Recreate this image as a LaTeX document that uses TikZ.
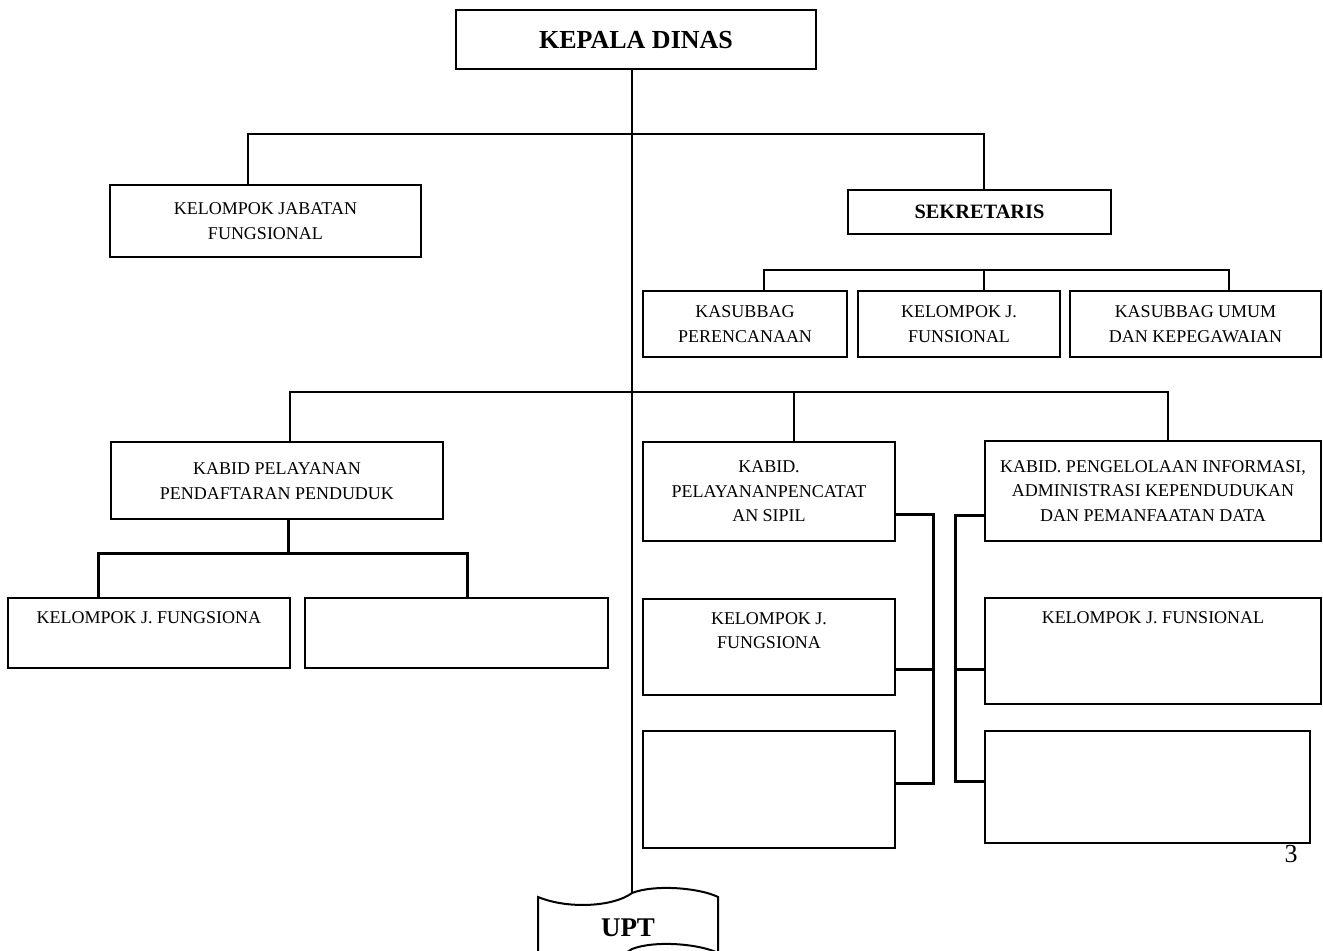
\documentclass[tikz,border=0pt]{standalone}
\usepackage{fontspec}
\setmainfont{Liberation Serif}
\newcommand\unitfont{\fontsize{9}{12.2}\selectfont}
\tikzset{
  unit/.style={draw,line width=1pt,inner sep=0pt,align=center,font=\unitfont},
  head/.style={font=\fontsize{#1}{#1}\selectfont\bfseries},
  toptext/.style={label={[font=\unitfont,align=center,anchor=north,inner sep=0pt,yshift=-7pt]north:{#1}}},
  bar/.style={line width=1.2pt,line cap=rect},
  drop/.style={line width=0.9pt,line cap=rect},
  tree/.style={line width=1.5pt,line cap=rect},
  spine/.style={line width=0.9pt},
}
\begin{document}
\begin{tikzpicture}[x=0.5pt,y=-0.5pt]
        \useasboundingbox (0,0) rectangle (1323,951);
        \node[unit,head=13,minimum width=180pt,minimum height=29.5pt] (kadis) at (636,40) {KEPALA DINAS};
        \node[unit,minimum width=155.5pt,minimum height=36pt] (kjf) at (265.5,221) {KELOMPOK JABATAN\\FUNGSIONAL};
        \node[unit,head=10.2,minimum width=131.5pt,minimum height=22pt] (sekr) at (979.5,212) {SEKRETARIS};
        \node[unit,minimum width=102pt,minimum height=33pt] (kren) at (745,324) {KASUBBAG\\PERENCANAAN};
        \node[unit,minimum width=101pt,minimum height=33pt] (kjfs) at (959,324) {KELOMPOK J.\\FUNSIONAL};
        \node[unit,minimum width=125.5pt,minimum height=33pt] (kumum) at (1195.5,324) {KASUBBAG UMUM\\DAN KEPEGAWAIAN};
        \node[unit,minimum width=166pt,minimum height=38.5pt] (kabid1) at (277,481) {KABID PELAYANAN\\PENDAFTARAN PENDUDUK};
        \node[unit,minimum width=141pt,minimum height=35pt,toptext={KELOMPOK J. FUNGSIONA}] (kjf1) at (149,633.5) {};
        \node[unit,minimum width=151.5pt,minimum height=35pt] (kosong1) at (456.5,633.5) {};
        \node[unit,minimum width=126pt,minimum height=49.5pt] (kabid2) at (769,491.5) {KABID.\\PELAYANANPENCATAT\\AN SIPIL};
        \node[unit,minimum width=126pt,minimum height=48pt,toptext={KELOMPOK J.\\FUNGSIONA}] (kjf2) at (769,647) {};
        \node[unit,minimum width=126pt,minimum height=58.5pt] (kosong2) at (769,789.5) {};
        \node[unit,minimum width=168pt,minimum height=50pt] (kabid3) at (1153,491) {KABID. PENGELOLAAN INFORMASI,\\ADMINISTRASI KEPENDUDUKAN\\DAN PEMANFAATAN DATA};
        \node[unit,minimum width=168pt,minimum height=53pt,toptext={KELOMPOK J. FUNSIONAL}] (kjf3) at (1153,651) {};
        \node[unit,minimum width=162.5pt,minimum height=56pt] (kosong3) at (1147.5,787) {};
        \node[head=13.5] (upt) at (628,928) {UPT};
        \node[font=\fontsize{13}{13}\selectfont] (hal) at (1291,854) {3};
        \coordinate (upttop) at (632,893);
        \begin{scope}
          \clip (0,0) rectangle (1323,951);
          \draw[line width=1pt] (538,897) .. controls (570,910) and (615,906) .. (upttop)
            .. controls (655,884) and (700,888) .. (718,897) -- (718,953)
            .. controls (700,944) and (655,940) .. (632,949)
            .. controls (615,962) and (570,966) .. (538,953) -- cycle;
        \end{scope}
        \draw[spine] (kadis.south -| upttop) -- (upttop);
        \coordinate (ka) at (248,134);
        \coordinate (kb) at (984,134);
        \draw[bar] (ka) -- (kb);
        \draw[drop] (ka) -- (ka |- kjf.north);
        \draw[drop] (kb) -- (kb |- sekr.north);
        \coordinate (sa) at (764,270);
        \coordinate (sb) at (1229,270);
        \coordinate (sc) at (984,270);
        \draw[bar] (sa |- kren.north) -- (sa) -- (sb) -- (sb |- kumum.north);
        \draw[drop] (sc) -- (sc |- kjfs.north);
        \coordinate (ra) at (290,392);
        \coordinate (rb) at (1168,392);
        \coordinate (rc) at (794,392);
        \draw[bar] (ra |- kabid1.north) -- (ra) -- (rb) -- (rb |- kabid3.north);
        \draw[bar] (rc) -- (rc |- kabid2.north);
        \coordinate (ta) at (288,554);
        \coordinate (tl) at (98,554);
        \coordinate (tr) at (467,554);
        \draw[tree] (kabid1.south -| ta) -- (ta);
        \draw[tree] (kjf1.north -| tl) -- (tl) -- (tr) -- (tr |- kosong1.north);
        \coordinate (rk) at (933,515);
        \coordinate (lk) at (955,516);
        \draw[tree] (rk) -- (rk |- 0,783);
        \foreach \b/\y in {kabid2/515,kjf2/670,kosong2/783}
          \draw[tree] (\b.east |- 0,\y) -- (rk |- 0,\y);
        \draw[tree] (lk) -- (lk |- 0,781);
        \foreach \b/\y in {kabid3/516,kjf3/670,kosong3/781}
          \draw[tree] (\b.west |- 0,\y) -- (lk |- 0,\y);
      \end{tikzpicture}
\end{document}
